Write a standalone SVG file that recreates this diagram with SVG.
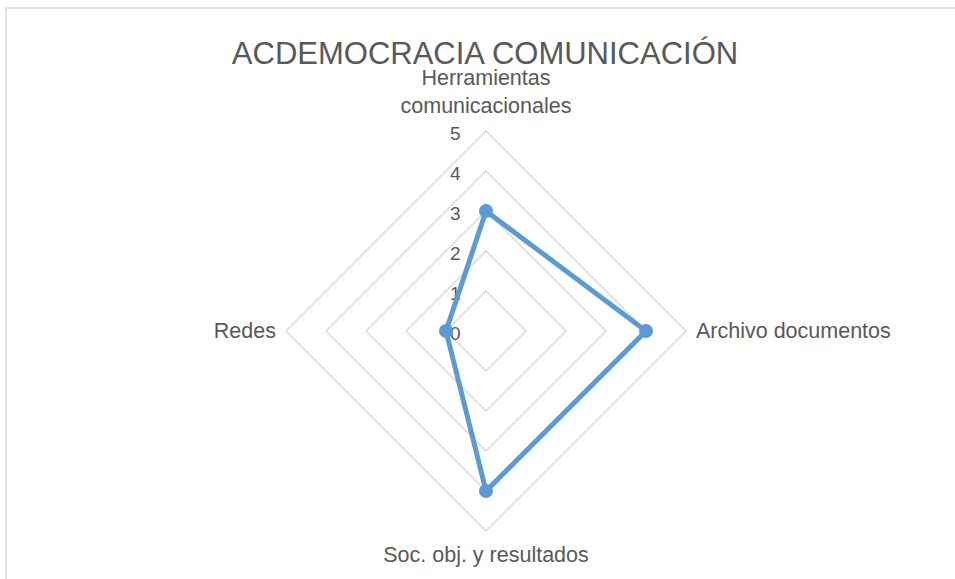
<svg xmlns="http://www.w3.org/2000/svg" width="955" height="579" viewBox="0 0 955 579">
<style>
text{font-family:"Liberation Sans",Arial,sans-serif;fill:#595959}
.grid{fill:none;stroke:#D9D9D9;stroke-width:1.5}
.lbl{font-size:21.5px}
.num{font-size:19px}
.series{fill:none;stroke:#5B9BD5;stroke-width:5;stroke-linejoin:round}
.pt{fill:#5B9BD5}
</style>
<rect x="0" y="0" width="955" height="579" fill="#FFFFFF"/>
<path d="M6,579 V8 H955" fill="none" stroke="#D9D9D9" stroke-width="1.5"/>
<text x="485" y="63.5" text-anchor="middle" font-size="31">ACDEMOCRACIA COMUNICACIÓN</text>
<g id="grid">
<polygon class="grid" points="486,291 526,331 486,371 446,331"/>
<polygon class="grid" points="486,251 566,331 486,411 406,331"/>
<polygon class="grid" points="486,211 606,331 486,451 366,331"/>
<polygon class="grid" points="486,171 646,331 486,491 326,331"/>
<polygon class="grid" points="486,131 686,331 486,531 286,331"/>
</g>
<g id="axis-labels">
<text class="num" x="450" y="140">5</text>
<text class="num" x="450" y="180">4</text>
<text class="num" x="450" y="220">3</text>
<text class="num" x="450" y="260">2</text>
<text class="num" x="450" y="300">1</text>
<text class="num" x="450" y="340">0</text>
</g>
<g id="node-herramientas">
<text class="lbl" x="486" y="85" text-anchor="middle">Herramientas</text>
<text class="lbl" x="486" y="113" text-anchor="middle">comunicacionales</text>
</g>
<g id="node-archivo">
<text class="lbl" x="696" y="338">Archivo documentos</text>
</g>
<g id="node-soc">
<text class="lbl" x="486" y="562" text-anchor="middle">Soc. obj. y resultados</text>
</g>
<g id="node-redes">
<text class="lbl" x="276" y="338" text-anchor="end">Redes</text>
</g>
<g id="connectors">
<polygon class="series" points="486,211 646,331 486,491 446,331"/>
</g>
<g id="points">
<circle class="pt" cx="486" cy="211" r="7"/>
<circle class="pt" cx="646" cy="331" r="7"/>
<circle class="pt" cx="486" cy="491" r="7"/>
<circle class="pt" cx="446" cy="331" r="7"/>
</g>
</svg>
